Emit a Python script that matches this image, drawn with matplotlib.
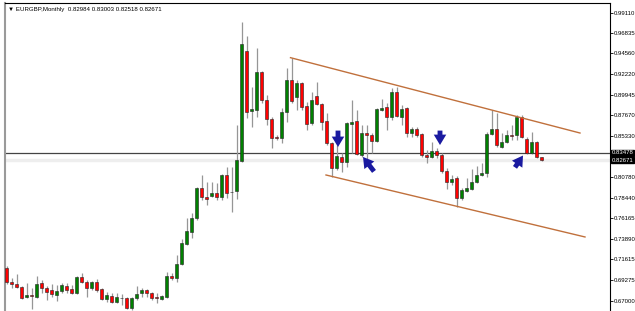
import matplotlib
matplotlib.use("Agg")
import matplotlib.pyplot as plt
import numpy as np

# monthly EURGBP candles
opens = [0.7063, 0.6907, 0.6885, 0.6851, 0.6740, 0.6762, 0.6740, 0.6896, 0.6840, 0.6818,
         0.6762, 0.6807, 0.6862, 0.6829, 0.6784, 0.6963, 0.6907, 0.6840, 0.6907, 0.6829,
         0.6717, 0.6751, 0.6684, 0.6734, 0.6729, 0.6617, 0.6729, 0.6784, 0.6818, 0.6784,
         0.6740, 0.6717, 0.6740, 0.6974, 0.6951, 0.7108, 0.7331, 0.7464, 0.7620, 0.7955,
         0.7855, 0.7866, 0.7899, 0.7855, 0.8100, 0.7910, 0.7921, 0.8256, 0.9482, 0.8813,
         0.8825, 0.9248, 0.8936, 0.8724, 0.8524, 0.8512, 0.8802, 0.9159, 0.8969, 0.9126,
         0.8869, 0.8680, 0.8981, 0.8891, 0.8702, 0.8457, 0.8178, 0.8301, 0.8245, 0.8668,
         0.8702, 0.8323, 0.8568, 0.8546, 0.8479, 0.8825, 0.8858, 0.8747, 0.9025, 0.8747,
         0.8847, 0.8568, 0.8613, 0.8557, 0.8323, 0.8301, 0.8367, 0.8323, 0.8144, 0.8022,
         0.8066, 0.7843, 0.7921, 0.7944, 0.8022, 0.8100, 0.8122, 0.8557, 0.8613, 0.8412,
         0.8468, 0.8546, 0.8546, 0.8747, 0.8501, 0.8345, 0.8468, 0.82984]
highs = [0.7085, 0.6951, 0.6996, 0.6862, 0.6896, 0.6840, 0.6974, 0.6929, 0.6862, 0.6885,
         0.6874, 0.6896, 0.6896, 0.6874, 0.6974, 0.7007, 0.6929, 0.6918, 0.6940, 0.6840,
         0.6795, 0.6784, 0.6784, 0.6773, 0.6740, 0.6740, 0.6862, 0.6840, 0.6829, 0.6795,
         0.6784, 0.6762, 0.7018, 0.7007, 0.7208, 0.7386, 0.7620, 0.7676, 0.7966, 0.8100,
         0.8022, 0.8022, 0.8011, 0.8111, 0.8189, 0.8189, 0.8657, 0.9806, 0.9650, 0.9081,
         0.9516, 0.9259, 0.8992, 0.8747, 0.8546, 0.8847, 0.9293, 0.9404, 0.9159, 0.9137,
         0.8914, 0.9025, 0.9137, 0.8903, 0.8791, 0.8468, 0.8434, 0.8345, 0.8691, 0.8936,
         0.8825, 0.8657, 0.8657, 0.8568, 0.8847, 0.8947, 0.8903, 0.9070, 0.9081, 0.8880,
         0.8858, 0.8635, 0.8635, 0.8568, 0.8379, 0.8468, 0.8401, 0.8345, 0.8178, 0.8100,
         0.8089, 0.7955, 0.8066, 0.8167, 0.8200, 0.8234, 0.8579, 0.8825, 0.8791, 0.8568,
         0.8602, 0.8657, 0.8769, 0.8769, 0.8524, 0.8579, 0.8479, 0.83003]
lows = [0.6885, 0.6840, 0.6840, 0.6717, 0.6729, 0.6606, 0.6729, 0.6784, 0.6706, 0.6740,
        0.6695, 0.6784, 0.6784, 0.6773, 0.6773, 0.6896, 0.6740, 0.6818, 0.6795, 0.6706,
        0.6684, 0.6673, 0.6673, 0.6651, 0.6606, 0.6595, 0.6706, 0.6740, 0.6740, 0.6706,
        0.6673, 0.6706, 0.6729, 0.6929, 0.6907, 0.7096, 0.7319, 0.7397, 0.7598, 0.7821,
        0.7765, 0.7855, 0.7821, 0.7821, 0.7843, 0.7687, 0.7832, 0.8245, 0.8735, 0.8635,
        0.8747, 0.8903, 0.8657, 0.8401, 0.8490, 0.8457, 0.8691, 0.8903, 0.8825, 0.8825,
        0.8602, 0.8657, 0.8880, 0.8602, 0.8434, 0.8078, 0.8156, 0.8133, 0.8189, 0.8345,
        0.8323, 0.8301, 0.8267, 0.8345, 0.8468, 0.8813, 0.8602, 0.8713, 0.8747, 0.8657,
        0.8524, 0.8524, 0.8524, 0.8301, 0.8234, 0.8289, 0.8289, 0.8122, 0.7944, 0.7988,
        0.7743, 0.7821, 0.7910, 0.7933, 0.8011, 0.8089, 0.8078, 0.8546, 0.8412, 0.8401,
        0.8457, 0.8490, 0.8490, 0.8512, 0.8334, 0.8334, 0.8289, 0.82518]
closes = [0.6907, 0.6885, 0.6851, 0.6729, 0.6762, 0.6751, 0.6885, 0.6840, 0.6795, 0.6773,
          0.6807, 0.6874, 0.6818, 0.6784, 0.6963, 0.6907, 0.6840, 0.6907, 0.6818, 0.6717,
          0.6762, 0.6684, 0.6740, 0.6729, 0.6617, 0.6729, 0.6773, 0.6818, 0.6784, 0.6729,
          0.6729, 0.6751, 0.6974, 0.6951, 0.7108, 0.7342, 0.7475, 0.7620, 0.7955, 0.7855,
          0.7832, 0.7899, 0.7855, 0.8100, 0.7899, 0.7905, 0.8267, 0.9560, 0.8802, 0.8836,
          0.9248, 0.8936, 0.8724, 0.8512, 0.8512, 0.8802, 0.9159, 0.8925, 0.9126, 0.8858,
          0.8668, 0.8936, 0.8891, 0.8691, 0.8457, 0.8178, 0.8312, 0.8245, 0.8680, 0.8691,
          0.8334, 0.8568, 0.8546, 0.8479, 0.8836, 0.8847, 0.8747, 0.9025, 0.8758, 0.8836,
          0.8568, 0.8613, 0.8546, 0.8323, 0.8301, 0.8367, 0.8323, 0.8144, 0.8022, 0.8055,
          0.7843, 0.7933, 0.7955, 0.8022, 0.8100, 0.8122, 0.8557, 0.8613, 0.8434, 0.8468,
          0.8546, 0.8540, 0.8747, 0.8524, 0.8345, 0.8468, 0.8301, 0.82671]

# channel trend lines (bar index, price)
upper_x = [56.8, 114.7]
upper_y = [0.9408, 0.8568]
lower_x = [63.9, 115.7]
lower_y = [0.8100, 0.7409]

# arrows: (tail x, tail y, tip x, tip y)
arrows = [(66.3, 0.8595, 66.3, 0.8412),
          (73.5, 0.8140, 71.3, 0.8301),
          (86.7, 0.8595, 86.7, 0.8434),
          (101.7, 0.8185, 103.3, 0.8317)]

ask_price = 0.83478
bid_price = 0.82671
tick_labels = ["0.99110", "0.96835", "0.94560", "0.92220", "0.89945", "0.87670", "0.85330",
               "0.80780", "0.78440", "0.76165", "0.73890", "0.71615", "0.69275", "0.67000"]

opens = np.array(opens)
closes = np.array(closes)
x = np.arange(len(opens))

fig = plt.figure(figsize=(6.35, 3.11), dpi=100)
ax = fig.add_axes([5 / 635, 0, 605 / 635, 308 / 311])
ax.set_xlim(-0.3, 120.7)
ax.set_ylim(0.65837, 1.00175)

# current price lines
ax.axhline(bid_price, color="#eeeeee", lw=2.5, zorder=1)
ax.axhline(ask_price, color="#444444", lw=0.9, zorder=1)

# wicks
ax.vlines(x, lows, highs, color="#969696", lw=0.9, zorder=2)

# bodies
up = closes >= opens
bottom = np.minimum(opens, closes)
height = np.abs(closes - opens)
colors = np.where(up, "#008000", "#ff0000")
ax.bar(x, np.maximum(height, 0.0004), bottom=bottom, width=0.66, color=colors,
       edgecolor="#222222", linewidth=0.4, zorder=3)

# trend lines
ax.plot(upper_x, upper_y, color="#c0703c", lw=1.0, zorder=4)
ax.plot(lower_x, lower_y, color="#c0703c", lw=1.0, zorder=4)

for tx, ty, hx, hy in arrows:
    ax.annotate("", xy=(hx, hy), xytext=(tx, ty),
                arrowprops=dict(arrowstyle="simple,head_width=0.9,head_length=0.75,tail_width=0.35",
                                mutation_scale=10, color="#1a1aa0", lw=0,
                                shrinkA=0, shrinkB=0), zorder=5)

# axis styling
ax.set_xticks([])
ax.yaxis.tick_right()
ticks = [float(t) for t in tick_labels]
ax.set_yticks(ticks)
ax.set_yticklabels(tick_labels, fontsize=4.3, family="Liberation Sans")
ax.tick_params(axis="y", direction="out", length=2, width=0.6, pad=0.5, colors="black")
ax.spines["bottom"].set_visible(False)
ax.spines["left"].set_color("#9a9a9a")
ax.spines["left"].set_linewidth(1.5)
ax.spines["top"].set_linewidth(0.8)
ax.spines["right"].set_linewidth(0.8)

# price labels on the right
for price in [ask_price, bid_price]:
    ax.text(1.003, price, f"{price:.5f}", transform=ax.get_yaxis_transform(),
            fontsize=4.3, family="Liberation Sans", color="white", va="center", ha="left",
            bbox=dict(boxstyle="square,pad=0.1", fc="black", ec="black"), zorder=6, clip_on=False)

fig.text(8 / 635, 1 - 10 / 311, "\u25bc EURGBP,Monthly  0.82984 0.83003 0.82518 0.82671",
         fontsize=4.4, family=["Liberation Sans", "DejaVu Sans"], va="center")

fig.savefig("out.png", dpi=100)
